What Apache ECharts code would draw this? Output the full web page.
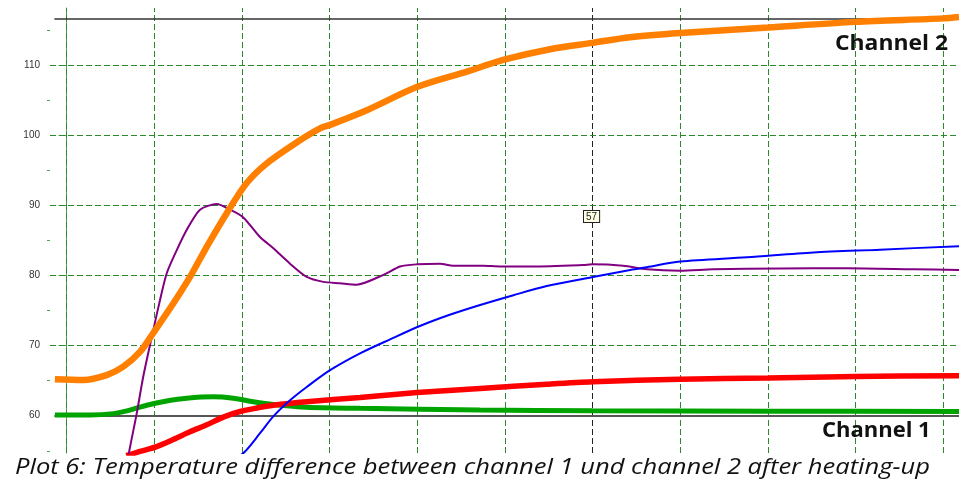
<!DOCTYPE html>
<html>
<head>
<meta charset="utf-8">
<script src="https://cdn.jsdelivr.net/npm/echarts@6/dist/echarts.min.js"></script>
<style>
html,body{margin:0;padding:0;background:#fff;}
#chart{width:959px;height:486px;}
</style>
</head>
<body>
<div id="chart"></div>
<script>
// ---- data (x in grid units: vertical grid lines at 0,10,...,100) ----
const xGridLines = [0,10,20,30,40,50,60,70,80,90,100];
const yLabelValues = [60,70,80,90,100,110];
const yMinorTickValues = [55,65,75,85,95,105,115];
const channel1Ref = 60;
const channel2Ref = 116.7;
const cursorX = 60;
const cursorLabel = '57';
const caption = 'Plot 6: Temperature difference between channel 1 und channel 2 after heating-up';

// Channel 2 (orange)
const orangeT = [-1.34,1.9,4.56,6.46,8.36,9.88,12.16,14.07,15.98,18.26,20.54,22.82,26.62,28.91,30.05,34.24,39.94,45.65,49.9,55.15,59.98,64.3,70,80,90,100,101.8];
const orangeV = [65.2,65.1,65.8,67.0,69.1,71.8,76.0,79.8,84.1,88.9,93.2,96.0,99.3,101.0,101.5,103.6,106.9,109.1,110.8,112.3,113.2,114.0,114.6,115.4,116.2,116.7,116.9];

// Difference (purple)
const purpleT = [6.0,7.03,7.99,8.74,9.88,10.65,11.41,12.55,13.69,15.21,17.12,18.64,20.15,22.06,23.58,25.48,27.39,29.28,31.19,33.09,36.13,38.04,39.94,42.6,44.08,47.5,49.44,53.21,58.92,59.95,63.48,66.19,70,73.75,81.4,89,96.6,101.8];
const purpleV = [46.0,54.2,60.3,65.6,72.2,76.5,80.3,83.6,86.5,89.4,90.2,89.4,88.3,85.5,83.9,81.7,79.8,79.1,78.9,78.7,80.1,81.3,81.6,81.7,81.4,81.4,81.3,81.3,81.5,81.6,81.4,80.9,80.7,80.9,81.0,81.05,80.9,80.8];

// Blue
const blueT = [19.0,20.35,22.06,23.58,25.48,27.39,30.05,33.47,36.9,40.3,43.7,47.17,50.97,54.77,60.03,64.29,66.19,70,77.6,85.2,92.8,101.8];
const blueV = [53.6,54.9,57.5,59.9,62.2,64.1,66.5,68.9,70.9,72.8,74.4,75.8,77.2,78.5,79.8,80.8,81.2,82.0,82.6,83.3,83.7,84.2];

// Channel 1 (red)
const redT = [6.8,8.36,10.27,12.16,14.07,15.98,17.87,19.78,21.68,23.58,27.39,33.47,39.97,47.17,54.77,60.03,70,80,90,101.8];
const redV = [54.3,54.9,55.6,56.6,57.7,58.7,59.8,60.6,61.1,61.5,62.0,62.6,63.3,63.9,64.5,64.85,65.2,65.4,65.6,65.7];

// Green
const greenT = [-1.34,2.66,5.32,7.22,9.13,11.41,13.69,16.73,19.01,21.29,23.58,27.39,33.47,47.17,60,80,101.8];
const greenV = [60.1,60.1,60.3,60.8,61.5,62.1,62.5,62.7,62.5,62.0,61.6,61.2,61.05,60.8,60.7,60.65,60.6];

function zip(t, v){ return t.map((x,i)=>[x, v[i]]); }

const chart = echarts.init(document.getElementById('chart'), null, {renderer:'canvas'});
const gridGreen = '#2a8a2a';

const option = {
  animation: false,
  backgroundColor: '#ffffff',
  grid: {left: 50, right: 0, top: 8, bottom: 33},
  xAxis: {
    type: 'value', min: -1.9, max: 101.8, show: false
  },
  yAxis: [{
    type: 'value', min: 54.68, max: 118.18, position: 'left',
    axisLine: {show: true, lineStyle: {color: '#4aa64a', width: 1}},
    axisTick: {show: true, length: 8, customValues: yLabelValues, lineStyle: {color: '#4aa64a'}},
    axisLabel: {show: true, customValues: yLabelValues, margin: 10, color: '#333', fontSize: 10, fontFamily: 'Liberation Sans'},
    splitLine: {show: false}
  },{
    type: 'value', min: 54.68, max: 118.18, position: 'left', offset: 0,
    axisLine: {show: false},
    axisTick: {show: true, length: 3, customValues: yMinorTickValues, lineStyle: {color: '#4aa64a'}},
    axisLabel: {show: false},
    splitLine: {show: false}
  }],
  series: [
    {
      type: 'line', data: [], z: 1,
      markLine: {
        z: 1, silent: true, symbol: ['none','none'], animation: false,
        label: {show: false},
        data: [
          ...xGridLines.map(v => ({xAxis: v, lineStyle: {color: v === cursorX ? '#222' : gridGreen, type: [6,3], width: 1}})),
          ...yLabelValues.filter(v => v !== channel1Ref).map(v => ({yAxis: v, lineStyle: {color: gridGreen, type: [6,3], width: 1}})),
          [{coord: [-1.4, channel1Ref], lineStyle: {color: '#555', type: 'solid', width: 2}}, {coord: [101.8, channel1Ref]}],
          [{coord: [-1.4, channel2Ref], lineStyle: {color: '#333', type: 'solid', width: 1.5}}, {coord: [101.8, channel2Ref]}]
        ]
      }
    },
    {name:'green', type:'line', data: zip(greenT, greenV), showSymbol:false, smooth:0.3, z:3,
     lineStyle:{color:'#00a400', width:5}},
    {name:'red', type:'line', data: zip(redT, redV), showSymbol:false, smooth:0.3, z:4,
     lineStyle:{color:'#ff0000', width:5.5}},
    {name:'purple', type:'line', data: zip(purpleT, purpleV), showSymbol:false, smooth:0.25, z:5,
     lineStyle:{color:'#800080', width:2}},
    {name:'orange', type:'line', data: zip(orangeT, orangeV), showSymbol:false, smooth:0.3, z:6,
     lineStyle:{color:'#ff8000', width:6.5}},
    {name:'blue', type:'line', data: zip(blueT, blueV), showSymbol:false, smooth:0.3, z:7,
     lineStyle:{color:'#0000ff', width:2}}
  ],
  graphic: [
    {type:'text', x: 835, y: 33, z: 20, scaleX: 1.04,
     style:{text:'Channel 2', font:'bold 22px "Open Sans"', fill:'#111'}},
    {type:'text', x: 822, y: 420, z: 20,
     style:{text:'Channel 1', font:'bold 22px "Open Sans"', fill:'#111'}},
    {type:'text', x: 15, y: 457, z: 20, scaleX: 1.16,
     style:{text: caption, font:'italic 22px "Open Sans"', fill:'#111'}},
    {type:'text', x: 584, y: 211, z: 20,
     style:{text: cursorLabel, font:'10px "Liberation Sans"', fill:'#222',
            backgroundColor:'#ffffe6', borderColor:'#222', borderWidth:1, padding:[1,2,0,2]}}
  ]
};
chart.setOption(option);
</script>
</body>
</html>
